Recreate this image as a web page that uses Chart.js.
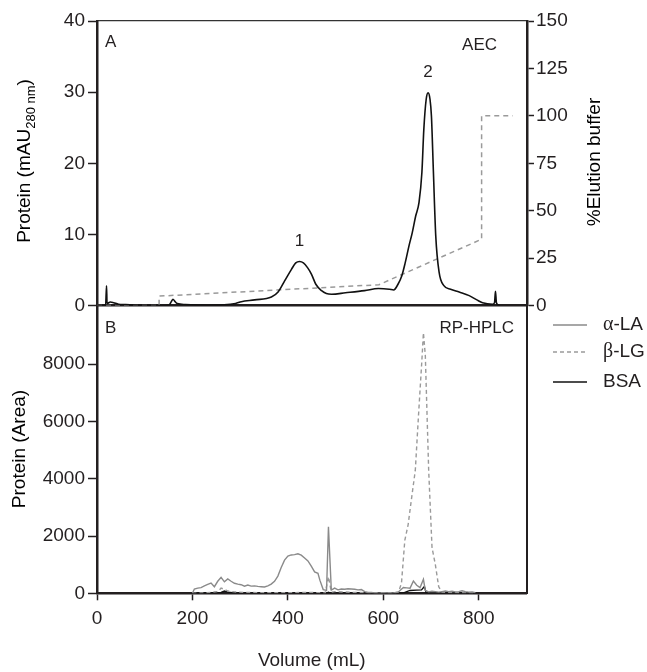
<!DOCTYPE html>
<html lang="en">
<head>
<meta charset="UTF-8">
<title>AEC / RP-HPLC</title>
<script src="https://cdn.jsdelivr.net/npm/chart.js"></script>
<style>
    body { margin: 0; background: #fff; }
    #wrap { position: relative; width: 647px; height: 672px; }
    canvas { position: absolute; left: 0; }
    #aec { top: 0; }
    #hplc { top: 290px; }
</style>
</head>
<body>
<div id="wrap">
    <canvas id="aec" width="647" height="320"></canvas>
    <canvas id="hplc" width="647" height="382"></canvas>
</div>
<script>
    // panel A - anion exchange, absorbance at 280 nm
    const aecVolume = [0, 18, 20, 21, 28, 35, 45, 60, 80, 130, 150, 156, 159, 163, 168, 185, 230, 266, 290, 302,
        330, 365, 379, 393, 407, 416, 424, 432, 441, 449, 458, 470, 480, 491, 520, 560, 589, 612, 621, 630,
        638, 645, 653, 660, 667, 674, 680, 684, 689, 693, 697, 700, 704, 709, 716, 726, 740, 758, 779, 795,
        807, 828, 832, 834, 836, 840, 843];
    const aecProtein = [0, 0, 2.8, 0.3, 0.5, 0.4, 0.2, 0.15, 0.05, 0.02, 0.05, 0.6, 0.9, 0.6, 0.3, 0.15, 0.05, 0.1, 0.3, 0.55,
        0.8, 1.2, 1.9, 3.5, 5.1, 6.0, 6.2, 6.0, 5.3, 4.4, 3.0, 2.1, 1.7, 1.6, 1.8, 2.1, 2.4, 2.3, 2.2, 3.0,
        4.2, 6.0, 8.4, 10.3, 12.6, 14.5, 18.7, 24.7, 29.0, 29.9, 29.0, 26.6, 19, 9.8, 4.7, 2.8, 2.3, 1.9, 1.4, 0.8,
        0.4, 0.2, 0.4, 2.0, 0.4, 0.1, 0];
    const gradVolume = [0, 130, 130, 590, 805, 805, 870];
    const gradPercent = [0, 0, 5, 11, 35, 100, 100];

    // panel B - RP-HPLC of the fractions
    const alphaVolume = [200, 204, 211, 218, 225, 232, 239, 246, 253, 260, 267, 274, 281, 288, 295, 302, 309, 316, 323, 330,
        337, 344, 351, 358, 365, 372, 379, 386, 393, 400, 407, 414, 421, 428, 435, 442, 449, 456, 463, 467,
        474, 481, 485, 491, 498, 505, 512, 519, 526, 533, 540, 547, 554, 561, 568, 575, 582, 589, 596, 603,
        610, 617, 624, 631, 635, 642, 649, 656, 663, 670, 677, 684, 688, 695, 702, 709, 716, 723, 730, 737,
        744, 751, 758, 765, 772, 779, 786, 793];
    const alphaLA = [0, 150, 180, 200, 260, 310, 360, 230, 420, 560, 400, 500, 420, 350, 320, 300, 250, 290, 250, 260,
        240, 230, 220, 260, 320, 420, 600, 900, 1160, 1300, 1340, 1350, 1380, 1330, 1230, 1130, 950, 750, 700, 460,
        130, 100, 2320, 110, 180, 120, 150, 140, 160, 150, 140, 120, 130, 60, 30, 30, 10, 0, 0, 20,
        10, 0, 20, 40, 100, 200, 190, 180, 430, 280, 200, 490, 100, 50, 70, 60, 40, 60, 80, 60,
        70, 50, 60, 90, 60, 40, 50, 20];
    const betaVolume = [200, 230, 253, 260, 267, 274, 288, 309, 351, 400, 440, 470, 478, 485, 491, 498, 540, 580, 625, 632,
        638, 645, 652, 659, 667, 674, 681, 684, 688, 695, 702, 709, 716, 723, 760, 793];
    const betaLG = [0, 20, 60, 180, 140, 80, 50, 30, 20, 20, 30, 20, 0, 580, 40, 60, 30, 20, 20, 50,
        350, 1850, 2400, 3300, 4300, 6300, 8200, 9100, 8300, 4300, 1600, 1000, 230, 40, 20, 10];
    const bsaVolume = [200, 260, 267, 274, 290, 400, 480, 485, 491, 640, 649, 656, 670, 680, 686, 690, 700, 793];
    const bsaArea = [0, 30, 80, 40, 10, 0, 0, 40, 0, 0, 60, 100, 110, 120, 240, 0, 0, 0];

    const proteinTicks = [0, 10, 20, 30, 40];
    const elutionTicks = [0, 25, 50, 75, 100, 125, 150];
    const areaTicks = [0, 2000, 4000, 6000, 8000];
    const volumeTicks = [0, 200, 400, 600, 800];

    const ink = '#231f20';
    const sans = '"Liberation Sans", Arial, sans-serif';
    Chart.defaults.font.family = sans;
    Chart.defaults.font.size = 19;
    Chart.defaults.color = ink;

    const pts = (xs, ys) => xs.map((x, i) => ({ x: x, y: ys[i] }));
    const fixTicks = list => scale => { scale.ticks = list.map(v => ({ value: v })); };
    const plain = v => String(v);

    function rotText(ctx, parts, cx, cy) {
        // parts: [text, size, shift] drawn bottom-to-top
        ctx.save();
        ctx.translate(cx, cy);
        ctx.rotate(-Math.PI / 2);
        ctx.textBaseline = 'middle';
        ctx.textAlign = 'left';
        let total = 0;
        parts.forEach(p => { ctx.font = p[1] + 'px ' + sans; total += ctx.measureText(p[0]).width; });
        let x = -total / 2;
        parts.forEach(p => {
            ctx.font = p[1] + 'px ' + sans;
            ctx.fillText(p[0], x, p[2]);
            x += ctx.measureText(p[0]).width;
        });
        ctx.restore();
    }

    const aecText = {
        id: 'aecText',
        afterDraw(chart) {
            const ctx = chart.ctx, xs = chart.scales.x, ys = chart.scales.y;
            ctx.save();
            ctx.fillStyle = ink;
            ctx.textBaseline = 'middle';
            ctx.font = '17px ' + sans;
            ctx.textAlign = 'left';
            ctx.fillText('A', 105, 42);
            ctx.textAlign = 'right';
            ctx.fillText('AEC', 497, 45);
            ctx.textAlign = 'center';
            ctx.fillText('1', xs.getPixelForValue(424), ys.getPixelForValue(6.2) - 20);
            ctx.fillText('2', xs.getPixelForValue(693), ys.getPixelForValue(29.9) - 21);
            ctx.restore();
            rotText(ctx, [['Protein (mAU', 19, 0], ['280 nm', 13, 6], [')', 19, 0]], 25, 161);
            rotText(ctx, [['%Elution buffer', 19, 0]], 595, 162);
        }
    };

    // canvas B starts 290 px down the page
    const hplcText = {
        id: 'hplcText',
        afterDraw(chart) {
            const ctx = chart.ctx;
            ctx.save();
            ctx.fillStyle = ink;
            ctx.textBaseline = 'middle';
            ctx.font = '17px ' + sans;
            ctx.textAlign = 'left';
            ctx.fillText('B', 105, 38);
            ctx.textAlign = 'right';
            ctx.fillText('RP-HPLC', 514, 38);
            // legend
            const rows = [35, 62, 92];
            chart.data.datasets.forEach((ds, i) => {
                const y = rows[i];
                ctx.strokeStyle = ds.borderColor;
                ctx.lineWidth = 1.5;
                ctx.setLineDash(ds.borderDash || []);
                ctx.beginPath();
                ctx.moveTo(553, y);
                ctx.lineTo(587, y);
                ctx.stroke();
                ctx.setLineDash([]);
                ctx.textAlign = 'left';
                let x = 603;
                const lab = ds.label;
                if (lab[0] === 'α' || lab[0] === 'β') {
                    ctx.font = '20px "Liberation Serif", serif';
                    ctx.fillText(lab[0], x, y);
                    x += ctx.measureText(lab[0]).width;
                    ctx.font = '19px ' + sans;
                    ctx.fillText(lab.slice(1), x, y);
                } else {
                    ctx.font = '19px ' + sans;
                    ctx.fillText(lab, x, y);
                }
            });
            ctx.restore();
            rotText(ctx, [['Protein (Area)', 19, 0]], 20, 159);
        }
    };

    new Chart(document.getElementById('aec'), {
        type: 'line',
        data: {
            datasets: [{
                label: 'AEC',
                data: pts(aecVolume, aecProtein),
                yAxisID: 'y',
                borderColor: '#111',
                borderWidth: 1.6,
                pointRadius: 0,
                cubicInterpolationMode: 'monotone'
            }, {
                label: '%Elution buffer',
                data: pts(gradVolume, gradPercent),
                yAxisID: 'yR',
                borderColor: '#9a9a9a',
                borderWidth: 1.5,
                borderDash: [5, 4],
                pointRadius: 0,
                tension: 0
            }]
        },
        options: {
            responsive: false,
            animation: false,
            layout: { padding: { top: 21, left: 0, right: 0, bottom: 0 } },
            plugins: { legend: { display: false }, tooltip: { enabled: false } },
            scales: {
                x: {
                    type: 'linear', min: 0, max: 900,
                    ticks: { display: false },
                    grid: { display: false },
                    border: { color: ink, width: 2.5 },
                    afterFit: s => { s.height = 13; }
                },
                x2: {
                    type: 'linear', position: 'top', min: 0, max: 900,
                    ticks: { display: false },
                    grid: { display: false },
                    border: { color: '#333', width: 1.3 },
                    afterFit: s => { s.height = 0; }
                },
                y: {
                    min: 0, max: 40,
                    afterBuildTicks: fixTicks(proteinTicks),
                    ticks: { padding: 3, color: ink, callback: plain },
                    grid: { drawOnChartArea: false, tickLength: 9, tickWidth: 1.5, tickColor: ink },
                    border: { color: ink, width: 2.5 },
                    afterFit: s => { s.width = 97; }
                },
                yR: {
                    position: 'right', min: 0, max: 150,
                    afterBuildTicks: fixTicks(elutionTicks),
                    ticks: { padding: 2, color: ink, callback: plain },
                    grid: { drawOnChartArea: false, tickLength: 7, tickWidth: 1.5, tickColor: ink },
                    border: { color: ink, width: 2.5 },
                    afterFit: s => { s.width = 120; }
                }
            }
        },
        plugins: [aecText]
    });

    new Chart(document.getElementById('hplc'), {
        type: 'line',
        data: {
            datasets: [{
                label: 'α-LA',
                data: pts(alphaVolume, alphaLA),
                borderColor: '#8a8a8a',
                borderWidth: 1.4,
                pointRadius: 0,
                tension: 0
            }, {
                label: 'β-LG',
                data: pts(betaVolume, betaLG),
                borderColor: '#9a9a9a',
                borderWidth: 1.4,
                borderDash: [4, 3],
                pointRadius: 0,
                tension: 0
            }, {
                label: 'BSA',
                data: pts(bsaVolume, bsaArea),
                borderColor: '#111',
                borderWidth: 1.4,
                pointRadius: 0,
                tension: 0
            }]
        },
        options: {
            responsive: false,
            animation: false,
            layout: { padding: { top: 17, left: 0, right: 0, bottom: 0 } },
            plugins: { legend: { display: false }, tooltip: { enabled: false } },
            scales: {
                x: {
                    type: 'linear', min: 0, max: 900,
                    afterBuildTicks: fixTicks(volumeTicks),
                    ticks: { padding: 7, color: ink, callback: plain },
                    grid: { drawOnChartArea: false, tickLength: 7, tickWidth: 1.5, tickColor: ink },
                    border: { color: ink, width: 2.5 },
                    title: { display: true, text: 'Volume (mL)', color: ink, font: { size: 19 }, padding: { top: 0, bottom: 0 } },
                    afterFit: s => { s.height = 78.7; }
                },
                y: {
                    min: 0, max: 10000,
                    afterBuildTicks: fixTicks(areaTicks),
                    ticks: { padding: 3, color: ink, callback: plain },
                    grid: { drawOnChartArea: false, tickLength: 9, tickWidth: 1.5, tickColor: ink },
                    border: { color: ink, width: 2.5 },
                    afterFit: s => { s.width = 97; }
                },
                yR: {
                    position: 'right', min: 0, max: 1,
                    ticks: { display: false },
                    grid: { display: false },
                    border: { color: ink, width: 2 },
                    afterFit: s => { s.width = 120.5; }
                }
            }
        },
        plugins: [hplcText]
    });
</script>
</body>
</html>
